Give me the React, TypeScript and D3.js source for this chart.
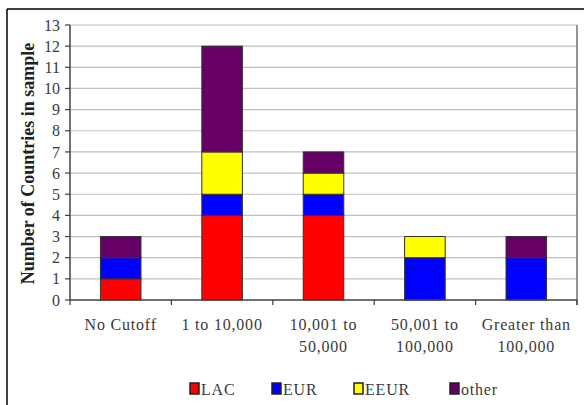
import React from 'react';
import * as d3 from 'd3';

const categories = [
  ['No Cutoff'],
  ['1 to 10,000'],
  ['10,001 to', '50,000'],
  ['50,001 to', '100,000'],
  ['Greater than', '100,000'],
];
const seriesNames = ['LAC', 'EUR', 'EEUR', 'other'];
const lac = [1, 4, 4, 0, 0];
const eur = [1, 1, 1, 2, 2];
const eeur = [0, 2, 1, 1, 0];
const other = [1, 5, 1, 0, 1];
const yTicks = [0, 1, 2, 3, 4, 5, 6, 7, 8, 9, 10, 11, 12, 13];
const colors = ['#ff0000', '#0000ff', '#ffff00', '#660066'];

const W = 585;
const H = 405;
const margin = { left: 70, right: 7, top: 25, bottom: 105 };
const font = 'Liberation Serif, serif';

export default function App() {
  const rows = categories.map((c, i) => ({
    key: String(i),
    LAC: lac[i],
    EUR: eur[i],
    EEUR: eeur[i],
    other: other[i],
  }));
  const stacked = d3.stack<any>().keys(seriesNames)(rows);

  const x = d3
    .scaleBand()
    .domain(rows.map((r) => r.key))
    .range([margin.left, W - margin.right - 1])
    .paddingInner(0.6)
    .paddingOuter(0.3);
  const band = (W - margin.right - 1 - margin.left) / categories.length;
  const y = d3.scaleLinear().domain([0, 13]).range([H - margin.bottom, margin.top]);
  const x0 = margin.left;
  const x1 = W - margin.right - 1;
  const legendX = [189, 271, 353, 449];

  return (
    <svg
      width={W}
      height={H}
      style={{ position: 'absolute', left: 0, top: 0, background: '#fff', fontFamily: font }}
    >
      {/* outer frame */}
      <line x1={7} x2={584} y1={9} y2={9} stroke="#000" strokeWidth={1.5} />
      <line x1={7} x2={7} y1={9} y2={405} stroke="#000" strokeWidth={1.5} />

      {/* grid */}
      {yTicks.slice(1).map((t) => (
        <line key={t} x1={x0} x2={x1} y1={y(t)} y2={y(t)} stroke="#c0c0c0" strokeWidth={1.2} />
      ))}
      <line x1={x1} x2={x1} y1={y(13)} y2={y(0) + 5} stroke="#707070" strokeWidth={1.5} />

      {/* bars */}
      {stacked.map((s, si) =>
        s.map((d, i) =>
          d[1] > d[0] ? (
            <rect
              key={si + '-' + i}
              x={x(String(i))}
              width={x.bandwidth()}
              y={y(d[1])}
              height={y(d[0]) - y(d[1])}
              fill={colors[si]}
              stroke="#333"
              strokeWidth={1}
            />
          ) : null
        )
      )}

      {/* y axis */}
      <line x1={x0} x2={x0} y1={y(13)} y2={y(0)} stroke="#404040" strokeWidth={1.5} />
      {yTicks.map((t) => (
        <g key={t}>
          <line x1={x0 - 5} x2={x0} y1={y(t)} y2={y(t)} stroke="#404040" strokeWidth={1.2} />
          <text
            x={x0 - 10}
            y={y(t)}
            dy="0.35em"
            textAnchor="end"
            fontSize={16}
            fill="#3a3a3a"
            fontFamily={font}
          >
            {t}
          </text>
        </g>
      ))}

      {/* x axis */}
      <line x1={x0} x2={x1} y1={y(0)} y2={y(0)} stroke="#404040" strokeWidth={1.5} />
      {d3.range(categories.length + 1).map((i) => (
        <line
          key={i}
          x1={x0 + i * band}
          x2={x0 + i * band}
          y1={y(0)}
          y2={y(0) + 5}
          stroke="#404040"
          strokeWidth={1.2}
        />
      ))}
      {categories.map((lines, i) => {
        const cx = (x(String(i)) as number) + x.bandwidth() / 2;
        return (
          <text
            key={i}
            x={cx}
            y={y(0) + 30}
            textAnchor="middle"
            fontSize={16}
            letterSpacing={0.8}
            fill="#3a3a3a"
            fontFamily={font}
          >
            {lines.map((l, j) => (
              <tspan key={j} x={cx} dy={j === 0 ? 0 : 22}>
                {l}
              </tspan>
            ))}
          </text>
        );
      })}

      {/* y title */}
      <text
        transform={`translate(34,${(42 + 285) / 2}) rotate(-90)`}
        textAnchor="middle"
        fontSize={18}
        fontWeight="bold"
        fill="#222"
        fontFamily={font}
      >
        Number of Countries in sample
      </text>

      {/* legend */}
      {seriesNames.map((n, i) => {
        const lx = legendX[i];
        return (
          <g key={n}>
            <rect x={lx + 1} y={383} width={9} height={11} fill={colors[i]} stroke="#222" strokeWidth={1.5} />
            <text
              x={lx + 12}
              y={389}
              dy="0.35em"
              fontSize={16}
              letterSpacing={0.8}
              fill="#3a3a3a"
              fontFamily={font}
            >
              {n}
            </text>
          </g>
        );
      })}
    </svg>
  );
}
